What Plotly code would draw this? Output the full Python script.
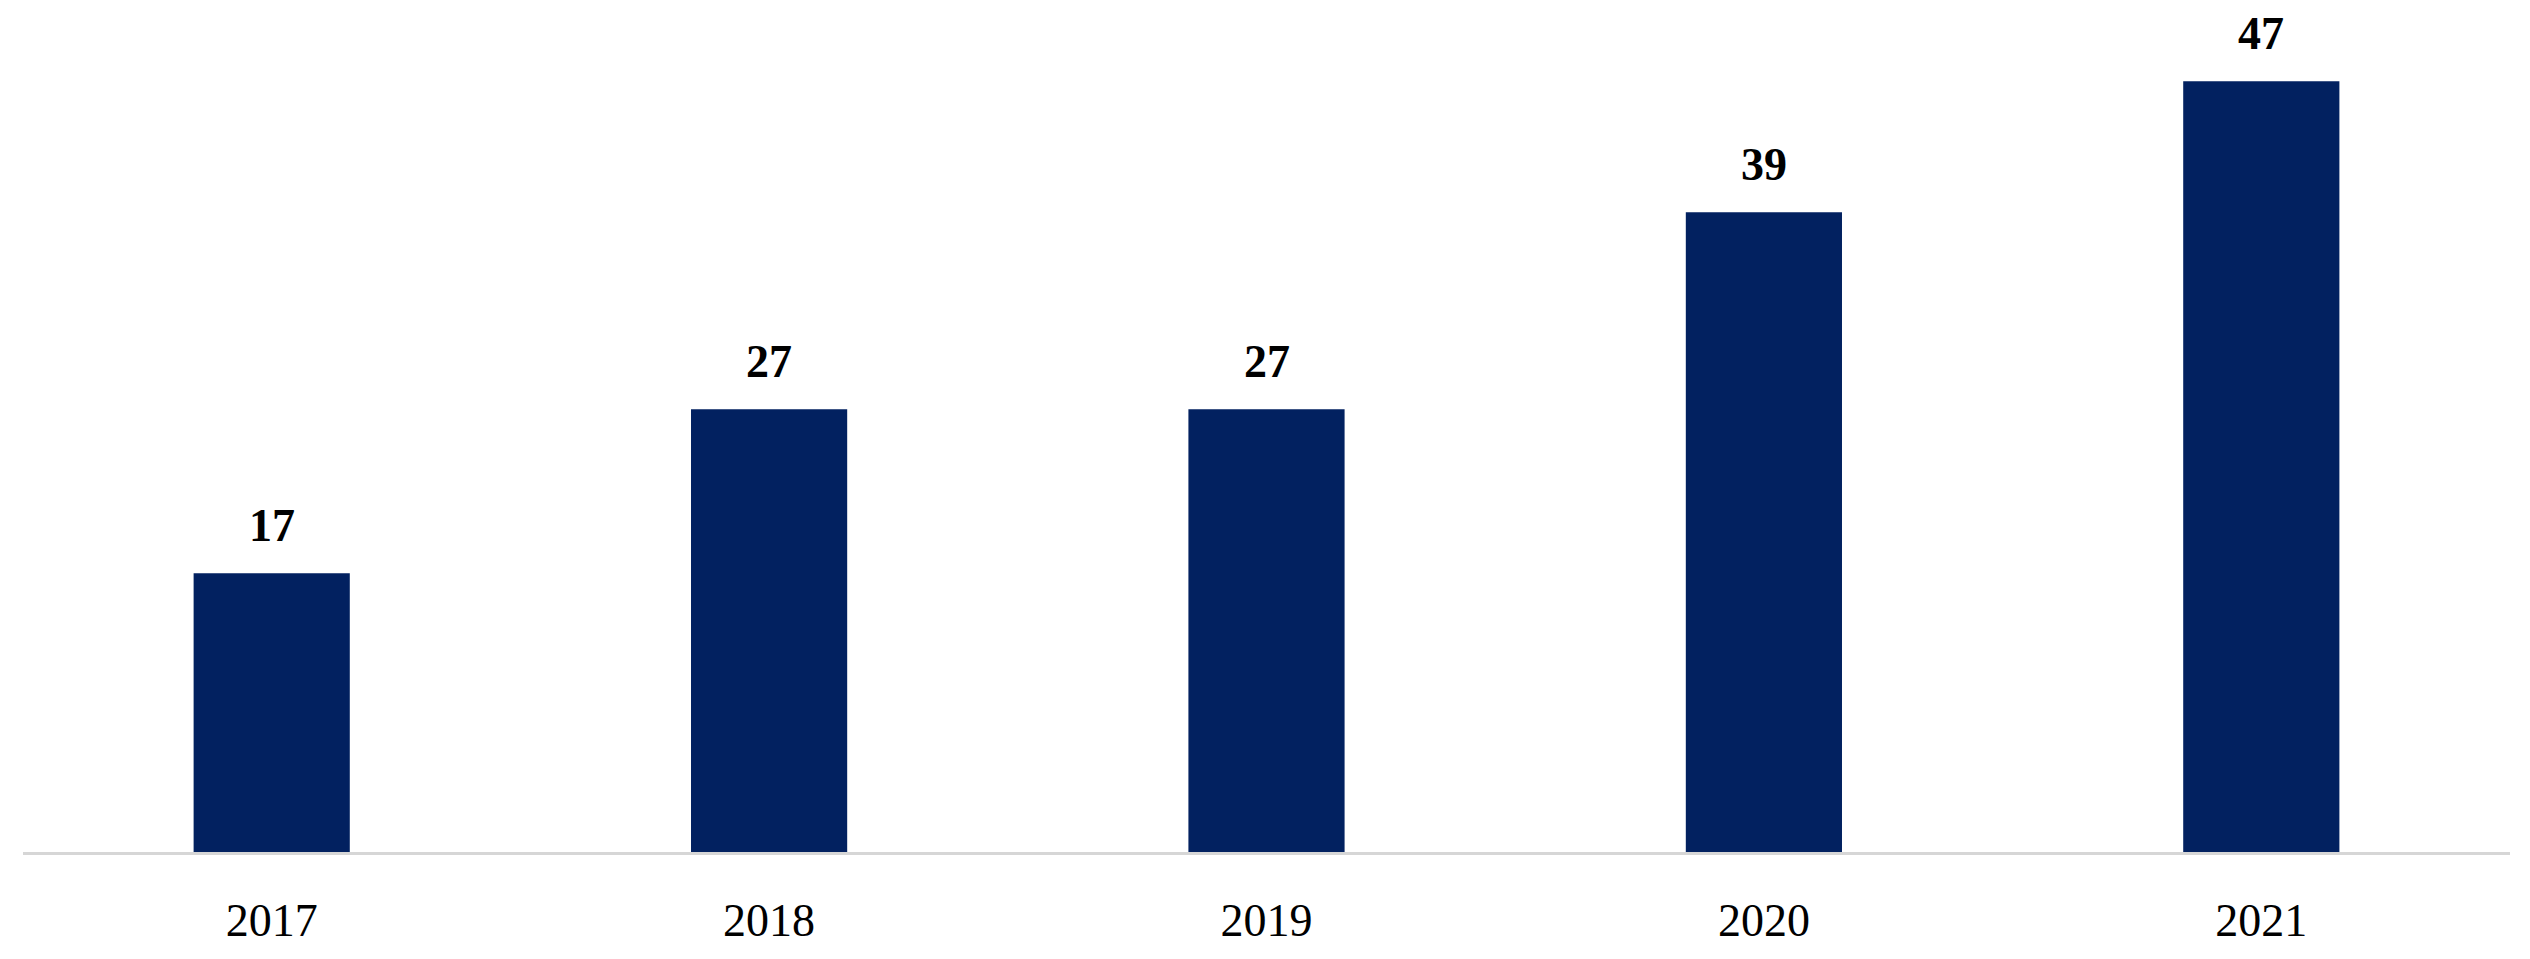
import plotly.graph_objects as go

years = ["2017", "2018", "2019", "2020", "2021"]
values = [17, 27, 27, 39, 47]

bar_color = "#022160"
serif = "Palatino Linotype, Book Antiqua, Liberation Serif, serif"

fig = go.Figure()
fig.add_trace(go.Bar(x=years, y=values, marker_color=bar_color,
                     marker_line_width=0, hoverinfo="skip"))

# value labels above each bar (x given as category index)
for i, v in enumerate(values):
    fig.add_annotation(x=i, y=v, xref="x", yref="y", text="<b>%d</b>" % v,
                       showarrow=False, yanchor="bottom", yshift=20,
                       font=dict(family=serif, size=46, color="black"))

# page body adds an 8px offset, margins compensate for it
fig.update_layout(
    width=2530, height=959,
    margin=dict(l=15, r=28, t=40, b=115),
    plot_bgcolor="white", paper_bgcolor="white",
    bargap=0.686,
    showlegend=False,
)
fig.update_xaxes(type="category", showline=True, linecolor="#d6d6d6", linewidth=3,
                 ticks="", showgrid=False,
                 tickfont=dict(family=serif, size=46, color="black"),
                 ticklabelstandoff=26)
fig.update_yaxes(range=[0, 49.02], visible=False, showgrid=False)

fig.write_html("out.html")
